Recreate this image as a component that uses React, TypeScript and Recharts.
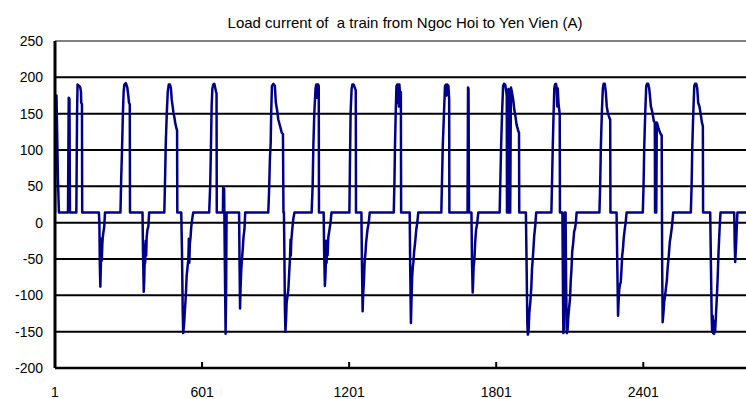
import React from 'react';
import { LineChart, Line, XAxis, YAxis, CartesianGrid, ReferenceLine } from 'recharts';

type Pt = [number, number];

const chartTitle = 'Load current of  a train from Ngoc Hoi to Yen Vien (A)';
const xTicks = [1, 601, 1201, 1801, 2401];
const yTicks = [-200, -150, -100, -50, 0, 50, 100, 150, 200, 250];
const xDomain: [number, number] = [1, 2820];
const yDomain: [number, number] = [-200, 250];

const run01: Pt[] = [
  [1, 14], [4, 172], [7, 175], [10, 120], [13, 60], [17, 14], [54, 14], [57, 172], [60, 170], [62, 14],
  [88, 14], [91, 150], [93, 190], [100, 188], [104, 186], [107, 180], [108, 165], [111, 163], [112, 14],
  [180, 14], [182, 0], [184, -60], [186, -88], [188, -60], [189, -22], [190, -50], [191, -25], [192, -52], [194, -30], [196, -20], [199, -12], [202, -5], [205, 14],
];
const run02: Pt[] = [
  [268, 14], [271, 60], [274, 95], [278, 150], [281, 180], [284, 190], [290, 192], [296, 186], [300, 175], [303, 165], [306, 163], [307, 14],
  [358, 14], [360, -40], [363, -95], [365, -80], [367, -50], [368, -30], [369, -55], [371, -25], [373, -45], [375, -20], [378, -10], [382, -5], [385, 14],
];
const run03: Pt[] = [
  [447, 14], [450, 60], [453, 110], [457, 150], [461, 180], [465, 190], [470, 190], [474, 185], [477, 170], [481, 160], [484, 152], [488, 145], [491, 138], [495, 132], [497, 129], [499, 127], [500, 14],
  [516, 14], [519, -40], [522, -120], [524, -152], [526, -145], [528, -138], [531, -120], [533, -110], [536, -90], [538, -74], [542, -60], [545, -51], [547, -22], [549, -55], [551, -30], [554, -20], [557, -5], [559, 0], [562, 8], [565, 14],
];
const run04: Pt[] = [
  [630, 14], [634, 50], [637, 100], [640, 160], [643, 185], [647, 190], [651, 191], [655, 185], [658, 180], [660, 178], [661, 14],
  [686, 14], [687, 48], [691, 47], [694, -60], [697, -153], [699, -100], [701, 14],
  [752, 14], [754, -60], [756, -118], [758, -90], [761, -64], [764, -50], [767, -36], [770, -20], [774, -9], [777, 14],
];
const run05: Pt[] = [
  [871, 14], [874, 40], [878, 90], [881, 110], [883, 152], [886, 188], [892, 191], [898, 188], [902, 165], [907, 155], [912, 142], [919, 133], [926, 124], [931, 122], [933, 14],
  [935, 14], [937, -50], [939, -120], [941, -150], [944, -130], [946, -110], [950, -100], [953, -92], [957, -65], [960, -46], [962, -23], [963, -45], [965, -25], [969, -9], [973, 5], [978, 14],
];
const run06: Pt[] = [
  [1048, 14], [1052, 50], [1055, 106], [1059, 152], [1064, 185], [1067, 190], [1069, 172], [1071, 190], [1073, 175], [1075, 190], [1077, 188], [1078, 14],
  [1097, 14], [1099, -40], [1102, -87], [1104, -75], [1106, -55], [1107, -25], [1109, -55], [1111, -30], [1113, -45], [1116, -20], [1121, -9], [1125, 0], [1129, 14],
];
const run07: Pt[] = [
  [1202, 14], [1204, 74], [1207, 152], [1211, 184], [1214, 190], [1219, 190], [1224, 186], [1228, 182], [1229, 14],
  [1251, 14], [1253, -50], [1256, -122], [1258, -100], [1261, -83], [1264, -55], [1268, -40], [1270, -28], [1276, -9], [1281, 0], [1285, 14],
];
const run08: Pt[] = [
  [1383, 14], [1386, 60], [1388, 106], [1391, 152], [1394, 188], [1397, 190], [1399, 165], [1401, 190], [1404, 160], [1406, 190], [1409, 175], [1412, 180], [1413, 14],
  [1448, 14], [1450, -60], [1453, -138], [1455, -110], [1458, -75], [1461, -60], [1463, -55], [1466, -40], [1470, -28], [1475, -9], [1479, 0], [1483, 14],
];
const run09: Pt[] = [
  [1577, 14], [1580, 60], [1583, 106], [1588, 152], [1592, 188], [1596, 190], [1599, 175], [1602, 190], [1606, 188], [1609, 170], [1610, 14],
  [1684, 14], [1686, 186], [1688, 184], [1690, 14],
  [1700, 14], [1702, -50], [1705, -96], [1707, -80], [1709, -60], [1712, -51], [1715, -28], [1719, -9], [1723, -2], [1728, 14],
];
const run10: Pt[] = [
  [1815, 14], [1818, 60], [1821, 106], [1825, 152], [1829, 188], [1833, 191], [1838, 190], [1842, 180], [1844, 175], [1845, 14],
  [1849, 14], [1851, 184], [1853, 182], [1855, 14], [1858, 14], [1861, 186], [1865, 180], [1870, 170], [1875, 155], [1880, 145],
  [1884, 135], [1888, 130], [1891, 126], [1894, 124], [1895, 14],
  [1922, 14], [1925, -60], [1928, -140], [1930, -154], [1933, -150], [1936, -124], [1940, -110], [1944, -90], [1947, -64], [1950, -50], [1953, -35], [1956, -18], [1960, -5], [1964, 14],
];
const run11: Pt[] = [
  [2026, 14], [2029, 60], [2032, 110], [2035, 150], [2038, 185], [2041, 190], [2045, 191], [2048, 185], [2050, 160], [2052, 185], [2055, 165], [2058, 155], [2060, 150], [2061, 14],
  [2071, 14], [2073, -80], [2075, -152], [2077, -148], [2079, -60], [2081, 14], [2084, 14], [2086, -80], [2089, -152], [2092, -148],
  [2095, -130], [2099, -115], [2102, -105], [2105, -80], [2108, -64], [2111, -40], [2115, -28], [2119, -12], [2122, -9], [2126, 0], [2129, 14],
];
const run12: Pt[] = [
  [2222, 14], [2225, 50], [2228, 106], [2232, 152], [2236, 185], [2239, 191], [2244, 191], [2248, 180], [2252, 160], [2256, 152], [2260, 147], [2264, 143], [2266, 142], [2267, 14],
  [2292, 14], [2295, -60], [2298, -128], [2300, -110], [2303, -91], [2306, -85], [2309, -82], [2312, -65], [2315, -45], [2318, -36], [2321, -22], [2325, -10], [2329, 0], [2333, 14],
];
const run13: Pt[] = [
  [2399, 14], [2402, 50], [2405, 106], [2409, 152], [2413, 188], [2416, 191], [2421, 191], [2425, 185], [2428, 175], [2432, 160], [2438, 152], [2444, 140], [2448, 138], [2449, 14],
  [2454, 14], [2456, 138], [2458, 136], [2463, 130], [2468, 125], [2472, 122], [2476, 120],
  [2478, -60], [2480, -137], [2483, -125], [2486, -110], [2490, -100], [2493, -91], [2497, -80], [2500, -64], [2505, -45], [2509, -27], [2513, -18], [2518, -5], [2523, 14],
];
const run14: Pt[] = [
  [2595, 14], [2598, 50], [2601, 106], [2605, 152], [2609, 188], [2612, 191], [2617, 191], [2621, 185], [2625, 165], [2630, 160], [2635, 150], [2640, 138], [2644, 133], [2645, 14],
  [2674, 14], [2677, -60], [2680, -130], [2682, -150], [2684, -128], [2686, -152], [2688, -140], [2690, -153], [2692, -135], [2694, -150], [2697, -130], [2700, -110], [2704, -80], [2708, -40], [2712, -10], [2716, 14],
  [2772, 14], [2774, -30], [2776, -54], [2778, -40], [2780, -27], [2782, -9], [2785, 14], [2820, 14],
];

const runs: Pt[][] = [run01, run02, run03, run04, run05, run06, run07, run08, run09, run10, run11, run12, run13, run14];
const data = runs.flat().map(([sample, current]) => ({ sample, current }));

const FONT = '"Liberation Sans", Arial, sans-serif';

const XTick = (props: any) => {
  const { x, y, payload } = props;
  return (
    <g>
      {payload.value !== 1 && (
        <line x1={x} x2={x} y1={y - 19} y2={y - 25} stroke="#000" strokeWidth={2} />
      )}
      <text x={x} y={y} dy="0.71em" textAnchor="middle" fontSize={14} fontFamily={FONT} fill="#000">
        {payload.value}
      </text>
    </g>
  );
};

export default function App() {
  return (
    <div style={{ position: 'absolute', left: 0, top: 0, width: 746, height: 399, background: '#fff' }}>
      <div
        style={{
          position: 'absolute',
          left: 405,
          top: 14,
          transform: 'translateX(-50%)',
          whiteSpace: 'pre',
          fontFamily: FONT,
          fontSize: 15,
          lineHeight: '17px',
          color: '#000',
        }}
      >
        {chartTitle}
      </div>
      <LineChart width={746} height={399} data={data} margin={{ top: 41, right: 0, bottom: 0, left: 0 }}>
        <CartesianGrid vertical={false} stroke="#000" strokeWidth={2} />
        <ReferenceLine y={250} stroke="#808080" strokeWidth={2} />
        <XAxis
          dataKey="sample"
          type="number"
          domain={xDomain}
          ticks={xTicks}
          allowDataOverflow
          interval={0}
          height={31}
          tickLine={false}
          tickSize={0}
          tickMargin={19}
          axisLine={{ stroke: '#000', strokeWidth: 2.5 }}
          tick={<XTick />}
        />
        <YAxis
          type="number"
          domain={yDomain}
          ticks={yTicks}
          interval={0}
          width={55}
          tickLine={false}
          tickSize={0}
          tickMargin={12}
          axisLine={{ stroke: '#000', strokeWidth: 3 }}
          tick={{ fill: '#000', fontSize: 14, fontFamily: FONT }}
        />
        <Line
          type="linear"
          dataKey="current"
          stroke="#000088"
          strokeWidth={2.5}
          dot={false}
          activeDot={false}
          isAnimationActive={false}
          strokeLinejoin="round"
        />
      </LineChart>
    </div>
  );
}
